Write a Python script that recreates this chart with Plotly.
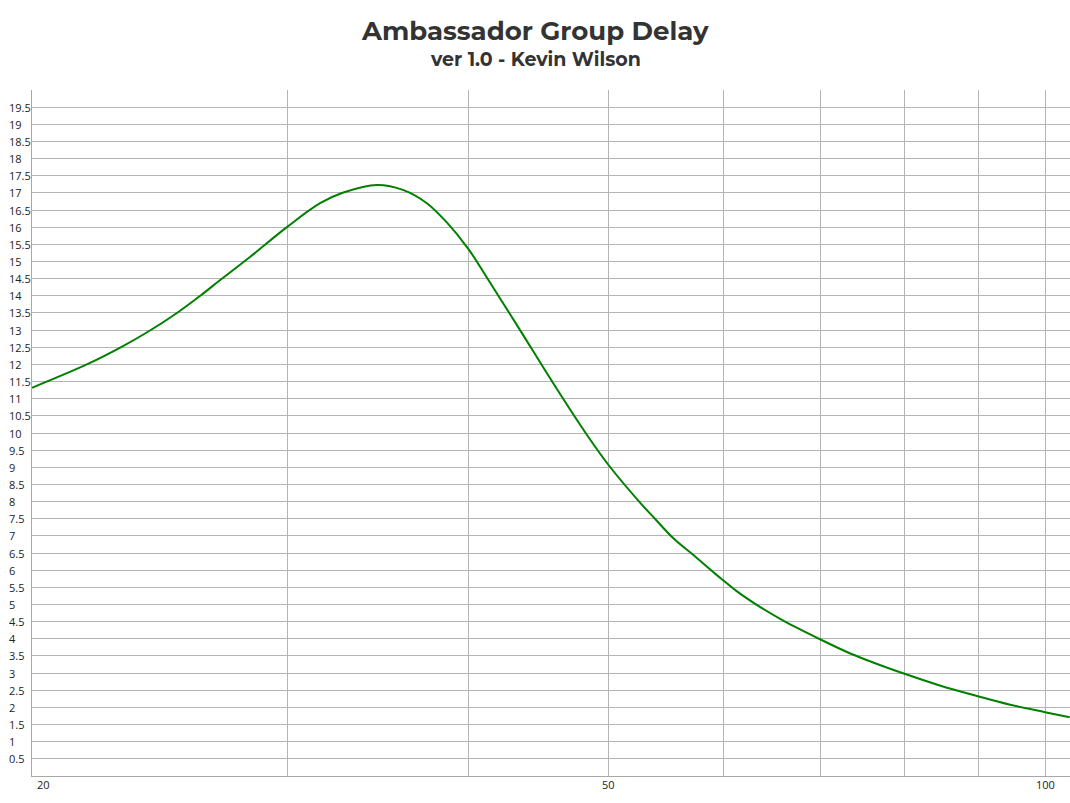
import numpy as np
import plotly.graph_objects as go

# Data
freq_hz = [20, 21.82, 23.01, 24.0, 25.18, 26.13, 26.97, 28.29, 30, 31.61, 32.8, 34.6,
           36.09, 37.45, 38.66, 40, 41.3, 43.43, 45.78, 48.29, 50, 52.55, 53.81, 55.41,
           57.2, 59.2, 60, 61.27, 63.58, 65.98, 70, 73.33, 76.1, 80, 84.6, 90, 94.6, 100, 104]
delay_ms = [11.32, 12.0, 12.49, 12.93, 13.50, 14.0, 14.46, 15.14, 16.01, 16.7, 17.01, 17.23,
            17.08, 16.70, 16.14, 15.37, 14.46, 13.0, 11.45, 9.95, 9.06, 7.97, 7.50, 6.93,
            6.44, 5.90, 5.70, 5.39, 4.93, 4.53, 3.98, 3.58, 3.31, 2.98, 2.64, 2.32, 2.08, 1.86, 1.71]

x_grid = [20, 30, 40, 50, 60, 70, 80, 90, 100]
x_labels = ["20", "", "", "50", "", "", "", "", "100"]
y_ticks = [0.5 * i for i in range(1, 40)]
y_labels = [("%g" % v) for v in y_ticks]

title = "Ambassador Group Delay"
subtitle = "ver 1.0 - Kevin Wilson"

W, H = 1070, 803
ML, MR, MT, MB = 32, 0, 90, 27
plot_w = W - ML - MR
plot_h = H - MT - MB

def ypix(py):
    return (H - MB - py) / plot_h

def xpix(px):
    return (px - ML) / plot_w

tick_font = dict(family="Open Sans, sans-serif", size=11, color="#222")

fig = go.Figure()
fig.add_trace(go.Scatter(x=freq_hz, y=delay_ms, mode="lines",
                         line=dict(color="#008000", width=2, shape="spline", smoothing=1.0),
                         showlegend=False, hoverinfo="x+y"))

grid_col = "#b4b4b4"
fig.update_xaxes(type="log", range=[np.log10(20), np.log10(104.05)],
                 tickvals=x_grid, showticklabels=False, showgrid=True, gridcolor=grid_col,
                 gridwidth=1, showline=True, linecolor="#a8a8a8", linewidth=1,
                 ticks="", zeroline=False, fixedrange=True)
fig.update_yaxes(range=[0, 20], tickvals=y_ticks + [20], showticklabels=False,
                 showgrid=True, gridcolor=grid_col, gridwidth=1, showline=True,
                 linecolor="#a8a8a8", linewidth=1, zeroline=False, ticks="", fixedrange=True)

for v, t in zip(y_ticks, y_labels):
    fig.add_annotation(x=0, xref="paper", y=v, yref="y", text=t, showarrow=False,
                       xanchor="left", xshift=-25, yanchor="middle", font=tick_font)
for v, t in zip(x_grid, x_labels):
    if not t:
        continue
    fig.add_annotation(x=np.log10(v), xref="x", y=0, yref="paper", text=t, showarrow=False,
                       xanchor="left" if v == 20 else "center", xshift=3 if v == 20 else 0,
                       yanchor="top", yshift=1, font=tick_font)

fig.add_annotation(x=xpix(535), xref="paper", y=ypix(31), yref="paper", yanchor="middle",
                   text="<b>" + title + "</b>", showarrow=False,
                   font=dict(family="Montserrat, Open Sans, sans-serif", size=26, color="#333"))
fig.add_annotation(x=xpix(535), xref="paper", y=ypix(59), yref="paper", yanchor="middle",
                   text="<b>" + subtitle + "</b>", showarrow=False,
                   font=dict(family="Montserrat, Open Sans, sans-serif", size=19, color="#333"))

fig.update_layout(
    width=W, height=H,
    margin=dict(l=ML, r=MR, t=MT, b=MB, pad=0),
    paper_bgcolor="white", plot_bgcolor="white",
)

fig.write_html("out.html", config={"displayModeBar": False},
               post_script="document.body.style.margin='0';document.body.style.overflow='hidden';")
